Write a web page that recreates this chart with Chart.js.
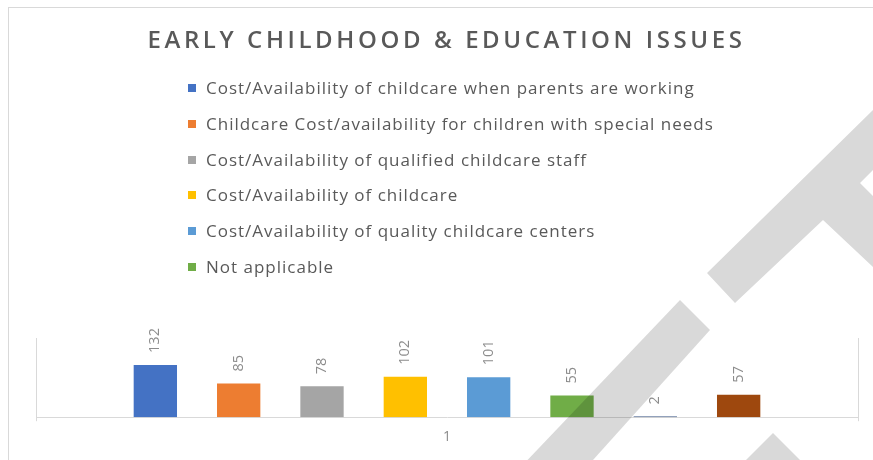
<!DOCTYPE html>
<html>
<head>
<meta charset="utf-8">
<script src="https://cdn.jsdelivr.net/npm/chart.js@4"></script>
<style>
  html, body { margin: 0; padding: 0; background: #fff; }
  #wrap { position: relative; width: 873px; height: 460px; overflow: hidden; }
  #frame {
    position: absolute; left: 8px; top: 7px; width: 900px; height: 500px;
    border-left: 1px solid #d9d9d9; border-top: 1px solid #d9d9d9;
  }
  #title {
    position: absolute; left: 0; width: 873px; top: 23px; text-align: center;
    font-family: "Open Sans", sans-serif; font-size: 24px; font-weight: 600;
    letter-spacing: 3.6px; color: #595959; line-height: 32px; padding-left: 20px; box-sizing: border-box;
  }
  #legend {
    position: absolute; left: 188px; top: 76px; margin: 0; padding: 0; list-style: none;
    font-family: "Open Sans", sans-serif; font-size: 17px; letter-spacing: 1px; color: #595959;
  }
  #legend li { height: 35.8px; line-height: 24px; white-space: nowrap; }
  #legend span.box {
    display: inline-block; width: 8px; height: 8px; margin-right: 10px; vertical-align: 2px;
  }
</style>
</head>
<body>
<div id="wrap">
  <canvas id="chart"></canvas>
  <div id="frame"></div>
  <div id="title">EARLY CHILDHOOD &amp; EDUCATION ISSUES</div>
  <ul id="legend"></ul>
</div>
<script>
// data
const categories = ['1'];
const seriesNames = [
  'Cost/Availability of childcare when parents are working',
  'Childcare Cost/availability for children with special needs',
  'Cost/Availability of qualified childcare staff',
  'Cost/Availability of childcare',
  'Cost/Availability of quality childcare centers',
  'Not applicable',
  '',   // name not shown in the legend
  ''    // name not shown in the legend
];
const seriesValues = [132, 85, 78, 102, 101, 55, 2, 57];
const seriesColors = ['#4472C4', '#ED7D31', '#A5A5A5', '#FFC000', '#5B9BD5', '#70AD47', '#264478', '#9E480E'];

const datasets = seriesValues.map((v, i) => ({
  label: seriesNames[i],
  data: [v],
  backgroundColor: seriesColors[i],
  borderWidth: 0
}));

// rotated value labels above each bar
const valueLabels = {
  id: 'valueLabels',
  afterDatasetsDraw(chart) {
    const ctx = chart.ctx;
    ctx.save();
    ctx.font = '14.5px "Open Sans", sans-serif';
    ctx.fillStyle = '#8c8c8c';
    ctx.textAlign = 'left';
    ctx.textBaseline = 'middle';
    chart.data.datasets.forEach((ds, i) => {
      chart.getDatasetMeta(i).data.forEach((bar, j) => {
        ctx.save();
        ctx.translate(bar.x, bar.y - 12);
        ctx.rotate(-Math.PI / 2);
        ctx.fillText(String(ds.data[j]), 0, 0);
        ctx.restore();
      });
    });
    ctx.restore();
  }
};

// grey diagonal bands that lie over the picture
const bands = {
  id: 'bands',
  afterDraw(chart) {
    const ctx = chart.ctx;
    const polys = [
      [[680, 300], [710, 330], [584, 470], [518, 470]],
      [[707, 273], [875, 108], [875, 168], [860, 183], [875, 198], [875, 269], [823, 220], [735, 303]],
      [[773, 433], [738, 468], [808, 468]]
    ];
    ctx.save();
    ctx.globalCompositeOperation = 'multiply';
    ctx.fillStyle = '#d9d9d9';
    polys.forEach(p => {
      ctx.beginPath();
      p.forEach(([x, y], k) => k ? ctx.lineTo(x, y) : ctx.moveTo(x, y));
      ctx.closePath();
      ctx.fill();
    });
    ctx.restore();
  }
};

const chart = new Chart(document.getElementById('chart'), {
  type: 'bar',
  data: { labels: categories, datasets: datasets },
  options: {
    responsive: true,
    maintainAspectRatio: false,
    animation: false,
    layout: { padding: { left: 36, right: 15, top: 338, bottom: 8 } },
    datasets: { bar: { categoryPercentage: 0.811, barPercentage: 0.52 } },
    plugins: {
      legend: { display: false },
      title: { display: false },
      tooltip: { enabled: false }
    },
    scales: {
      x: {
        grid: { display: true, offset: true, color: '#d9d9d9', tickLength: 4 },
        border: { color: '#d9d9d9' },
        ticks: { color: '#8c8c8c', font: { family: '"Open Sans", sans-serif', size: 14 }, padding: 7 }
      },
      y: {
        display: false,
        min: 0,
        max: 200
      }
    }
  },
  plugins: [valueLabels, bands]
});

// legend list built from the chart's own legend items (named series only)
const legendEl = document.getElementById('legend');
Chart.defaults.plugins.legend.labels.generateLabels(chart)
  .filter(item => item.text)
  .forEach(item => {
    const li = document.createElement('li');
    const box = document.createElement('span');
    box.className = 'box';
    box.style.background = item.fillStyle;
    li.appendChild(box);
    li.appendChild(document.createTextNode(item.text));
    legendEl.appendChild(li);
  });
</script>
</body>
</html>
